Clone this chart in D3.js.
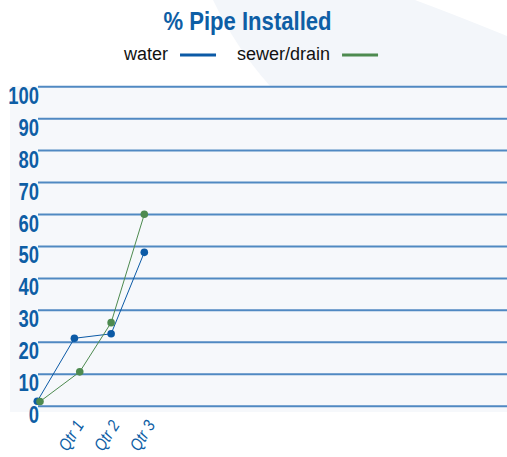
<!DOCTYPE html>
<html>
<head>
<meta charset="utf-8">
<script src="https://cdn.jsdelivr.net/npm/d3@7"></script>
<style>
  body { margin: 0; background: #fff; }
  svg { display: block; }
</style>
</head>
<body>
<div id="chart"></div>
<script>
// Data
const yTicks = [0, 10, 20, 30, 40, 50, 60, 70, 80, 90, 100];
const quarterLabels = ["Qtr 1", "Qtr 2", "Qtr 3"];
const quarterTicks = [1, 2, 3];
const waterX = [0, 1.04, 2.07, 3];
const waterValues = [1.4, 21.1, 22.5, 48.0];
const sewerX = [0.075, 1.19, 2.07, 3];
const sewerValues = [1.3, 10.6, 26.0, 59.9];
const seriesNames = ["water", "sewer/drain"];
const seriesColors = ["#0b5aa6", "#4d8a4f"];

const width = 507, height = 457;
const blue = "#0e5ea5";
const font = "'Liberation Sans', Arial, sans-serif";

const svg = d3.select("#chart").append("svg")
    .attr("width", width)
    .attr("height", height);

// background panels
svg.append("path")
    .attr("d", "M213,0 Q236,48 270,86 L507,86 L507,36 Q458,16 415,0 Z")
    .attr("fill", "#f3f6fa");
svg.append("rect")
    .attr("x", 10).attr("y", 86)
    .attr("width", width - 10).attr("height", 326)
    .attr("fill", "#f6f8fb");

const x = d3.scaleLinear().domain([0, 3]).range([37.3, 144.3]);
const y = d3.scaleLinear().domain([0, 100]).range([405.7, 86.2]);

// gridlines
const grid = svg.append("g")
    .attr("transform", "translate(38,0)")
    .call(d3.axisLeft(y).tickValues(yTicks).tickSize(-(width - 38)).tickFormat(""));
grid.select(".domain").remove();
grid.selectAll(".tick line").attr("stroke", "#5089c2").attr("stroke-width", 2);

// y labels (condensed bold)
const yAxis = svg.append("g")
    .attr("transform", "translate(39,0)")
    .call(d3.axisLeft(y).tickValues(yTicks).tickSize(0).tickPadding(0));
yAxis.select(".domain").remove();
yAxis.selectAll(".tick text")
    .attr("x", 0)
    .attr("dy", "17px")
    .attr("transform", "scale(0.8,1)")
    .attr("text-anchor", "end")
    .attr("fill", blue)
    .style("font-family", font)
    .style("font-weight", "bold")
    .style("font-size", "23px");

// x labels
const xAxis = svg.append("g")
    .attr("transform", "translate(0,412)")
    .call(d3.axisBottom(x).tickValues(quarterTicks).tickSize(0).tickFormat((d, i) => quarterLabels[i]));
xAxis.select(".domain").remove();
xAxis.selectAll(".tick text")
    .attr("text-anchor", "end")
    .attr("y", 0)
    .attr("dy", 0)
    .attr("transform", "translate(11,13) rotate(-58) scale(0.85,1)")
    .attr("fill", blue)
    .style("font-family", font)
    .style("font-style", "italic")
    .style("font-size", "17px");

// series
const series = [
    {name: seriesNames[0], xs: waterX, values: waterValues, color: seriesColors[0]},
    {name: seriesNames[1], xs: sewerX, values: sewerValues, color: seriesColors[1]}
];
const line = d3.line().x(d => x(d[0])).y(d => y(d[1]));

series.forEach(s => {
    const pts = s.xs.map((v, i) => [v, s.values[i]]);
    svg.append("path")
        .datum(pts)
        .attr("d", line)
        .attr("fill", "none")
        .attr("stroke", s.color)
        .attr("stroke-width", 1);
    svg.append("g").selectAll("circle")
        .data(pts)
        .enter().append("circle")
        .attr("cx", d => x(d[0]))
        .attr("cy", d => y(d[1]))
        .attr("r", 3.8)
        .attr("fill", s.color);
});

// title (condensed bold)
svg.append("text")
    .attr("transform", "translate(247.5,30) scale(0.85,1)")
    .attr("text-anchor", "middle")
    .attr("fill", blue)
    .style("font-family", font)
    .style("font-weight", "bold")
    .style("font-size", "26px")
    .text("% Pipe Installed");

// legend
const legendX = [124, 237];
series.forEach((s, i) => {
    const t = svg.append("text")
        .attr("x", legendX[i]).attr("y", 60)
        .attr("fill", "#111")
        .style("font-family", font)
        .style("font-size", "18px")
        .text(s.name);
    const w = t.node().getComputedTextLength();
    svg.append("line")
        .attr("x1", legendX[i] + w + 12).attr("x2", legendX[i] + w + 48)
        .attr("y1", 55).attr("y2", 55)
        .attr("stroke", s.color)
        .attr("stroke-width", 3);
});
</script>
</body>
</html>
